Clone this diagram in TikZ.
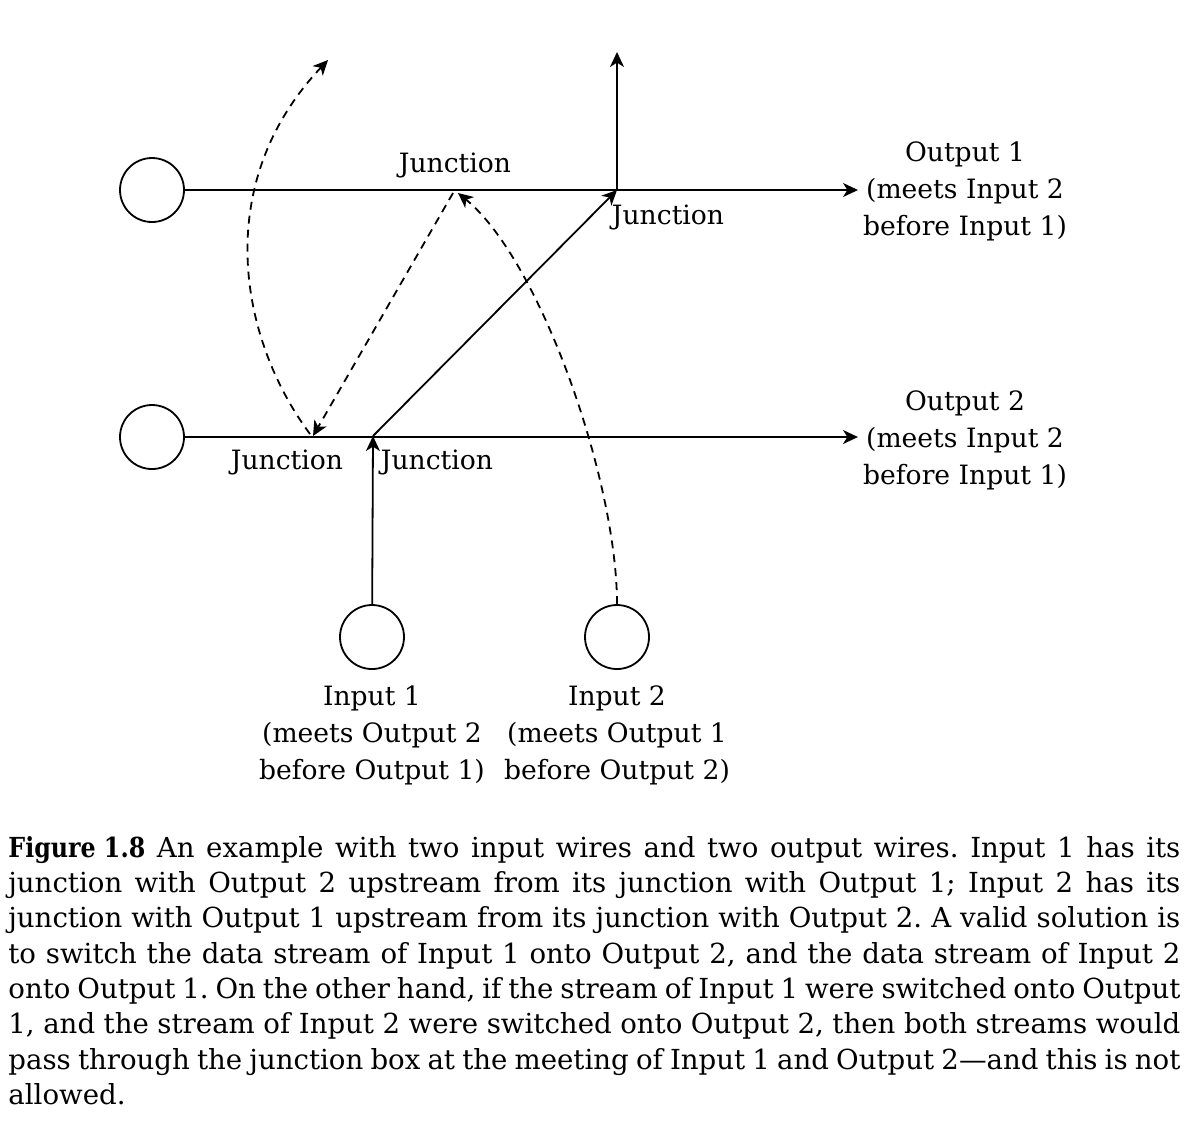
\documentclass[tikz,border=0pt]{standalone}
\usepackage{fontspec}
\usepackage{graphicx}
\setmainfont{DejaVu Serif}
\usetikzlibrary{arrows.meta}
\begin{document}
\begin{tikzpicture}[x=0.5pt,y=-0.5pt,
  wire/.style={draw,circle,line width=0.9pt,minimum size=32pt,inner sep=0pt},
  ln/.style={line width=0.9pt},
  arr/.style={ln,-{Stealth[length=7.5pt,width=7pt,inset=2.2pt]}},
  darr/.style={arr,dash pattern=on 4pt off 3pt},
  lbl/.style={font=\fontsize{13.3}{18.5}\selectfont,inner sep=0pt},
  multi/.style={lbl,align=center}]
\useasboundingbox (0,0) rectangle (1202,1132);
% wires
\node[wire] (o1) at (152,190) {};
\node[wire] (o2) at (152,437) {};
\node[wire] (i1) at (372,637) {};
\node[wire] (i2) at (617,637) {};
% junctions and free ends
\coordinate (jA) at (455,190);
\coordinate (jB) at (617,190);
\coordinate (jC) at (313,436);
\coordinate (jD) at (373,436);
\coordinate (o1end) at (858,190);
\coordinate (o2end) at (858,437);
\coordinate (up) at (617,52);
\coordinate (cEnd) at (328,60);
\coordinate (aTip) at (458,193);
\coordinate (aTop) at (453,193);
\coordinate (cStart) at (310,434);
% solid connectors
\draw[arr] (o1) -- (o1end);
\draw[arr] (o2) -- (o2end);
\draw[arr] (jB) -- (up);
\draw[arr] (i1) -- (jD);
\draw[arr] (jD) -- (jB);
% dashed connectors
\draw[darr] (i2.north) .. controls (617,480) and (540,260) .. (aTip);
\draw[darr] (aTop) -- (jC);
\draw[darr] (cStart) .. controls (240,340) and (210,185) .. (cEnd);
% junction labels
\node[lbl] (lA) at (455,165) {Junction};
\node[lbl] (lB) at (668,217) {Junction};
\node[lbl] (lC) at (287,462) {Junction};
\node[lbl] (lD) at (437,462) {Junction};
% output / input labels
\node[multi] (out1) at (965,191) {Output 1\\(meets Input 2\\before Input 1)};
\node[multi] (out2) at (965,440) {Output 2\\(meets Input 2\\before Input 1)};
\node[multi] (in1) at (372,735) {Input 1\\(meets Output 2\\before Output 1)};
\node[multi] (in2) at (617,735) {Input 2\\(meets Output 1\\before Output 2)};
% caption
\node[anchor=north west,inner sep=0pt,text width=586pt,align=justify,
  font=\fontsize{13.8}{17.64}\selectfont\frenchspacing] (cap) at (8,836)
{\scalebox{0.86}[1]{\textbf{Figure 1.8}} An example with two input wires and two output wires. Input 1 has its\linebreak
junction with Output 2 upstream from its junction with Output 1; Input 2 has its\linebreak
junction with Output 1 upstream from its junction with Output 2. A valid solution is\linebreak
to switch the data stream of Input 1 onto Output 2, and the data stream of Input 2\linebreak
onto Output 1. On the other hand, if the stream of Input 1 were switched onto Output\linebreak
1, and the stream of Input 2 were switched onto Output 2, then both streams would\linebreak
pass through the junction box at the meeting of Input 1 and Output 2—and this is not\linebreak
allowed.};
\end{tikzpicture}
\end{document}
